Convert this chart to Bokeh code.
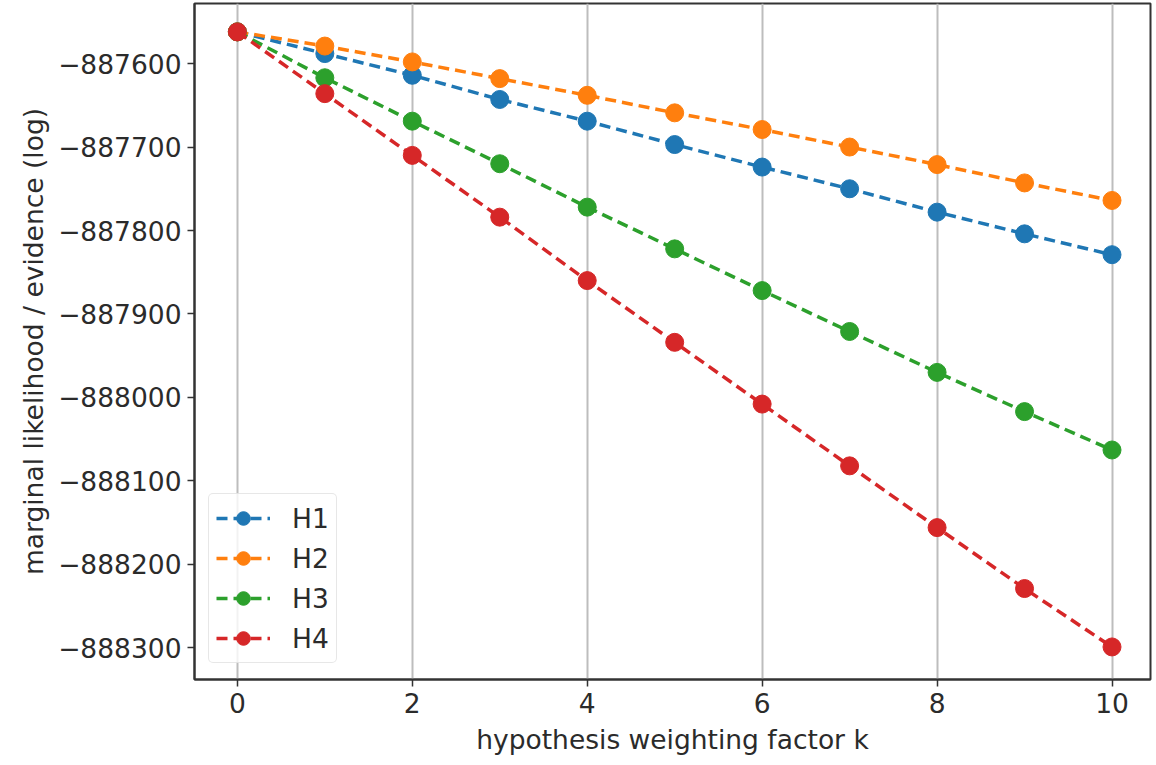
from bokeh.plotting import figure
from bokeh.models import Range1d, FixedTicker, CustomJSTickFormatter, Legend, LegendItem
from bokeh.embed import file_html
from bokeh.resources import INLINE

k = [0, 1, 2, 3, 4, 5, 6, 7, 8, 9, 10]
H1 = [-887562, -887588, -887614, -887643, -887669, -887697, -887724, -887750, -887778, -887804, -887829]
H2 = [-887562, -887579, -887598, -887618, -887638, -887659, -887679, -887700, -887721, -887743, -887764]
H3 = [-887562, -887617, -887669, -887720, -887772, -887822, -887872, -887921, -887970, -888017, -888063]
H4 = [-887562, -887636, -887710, -887784, -887860, -887934, -888008, -888082, -888156, -888229, -888299]
series = [("H1", H1, "#1f77b4"), ("H2", H2, "#ff7f0e"), ("H3", H3, "#2ca02c"), ("H4", H4, "#d62728")]
x_ticks = [0, 2, 4, 6, 8, 10]
y_ticks = [-887600, -887700, -887800, -887900, -888000, -888100, -888200, -888300]

FONT = "DejaVu Sans"
FS = "26.5px"
p = figure(width=1152, height=760, output_backend="svg", toolbar_location=None,
           x_range=Range1d(-0.49, 10.44), y_range=Range1d(-888338, -887528),
           min_border_left=194, min_border_right=2, min_border_top=3, min_border_bottom=81)

p.background_fill_color = "white"
p.border_fill_color = "white"
p.outline_line_color = "#333333"
p.outline_line_width = 2

p.xgrid.ticker = FixedTicker(ticks=x_ticks)
p.xgrid.grid_line_color = "#bdbdbd"
p.xgrid.grid_line_width = 2
p.ygrid.grid_line_color = None

p.xaxis.ticker = FixedTicker(ticks=x_ticks)
p.yaxis.ticker = FixedTicker(ticks=y_ticks)
p.yaxis.formatter = CustomJSTickFormatter(code="return (tick < 0 ? '\u2212' : '') + Math.abs(tick).toFixed(0);")

for ax in (p.xaxis, p.yaxis):
    ax.major_label_text_font = FONT
    ax.major_label_text_font_size = FS
    ax.major_label_text_color = "#2b2b2b"
    ax.axis_label_text_font = FONT
    ax.axis_label_text_font_size = FS
    ax.axis_label_text_font_style = "normal"
    ax.axis_label_text_color = "#2b2b2b"
    ax.axis_line_color = "#333333"
    ax.axis_line_width = 2
    ax.major_tick_line_color = "#333333"
    ax.major_tick_line_width = 1.5
    ax.major_tick_out = 7
    ax.major_tick_in = 0
    ax.minor_tick_line_color = None
    ax.major_label_standoff = 6

p.xaxis.axis_label = "hypothesis weighting factor k"
p.yaxis.axis_label = "marginal likelihood / evidence (log)"
p.xaxis.axis_label_standoff = 8
p.yaxis.axis_label_standoff = 6

items = []
for name, vals, color in series:
    r1 = p.line(k, vals, line_color=color, line_width=3.5, line_dash="11 6")
    r2 = p.scatter(k, vals, size=18, fill_color=color, line_color=color, marker="circle")
    items.append(LegendItem(label=name, renderers=[r1, r2]))

legend = Legend(items=items, location=(14, 16))
legend.label_text_font = FONT
legend.label_text_font_size = FS
legend.label_text_color = "#2b2b2b"
legend.glyph_width = 54
legend.glyph_height = 34
legend.label_height = 34
legend.spacing = 6
legend.padding = 7
legend.margin = 0
legend.label_standoff = 22
legend.border_line_color = "#d0d0d0"
legend.border_line_width = 1.5
legend.border_radius = 5
legend.background_fill_alpha = 0.8
p.add_layout(legend, "center")

open("out.html", "w").write(file_html(p, INLINE))
